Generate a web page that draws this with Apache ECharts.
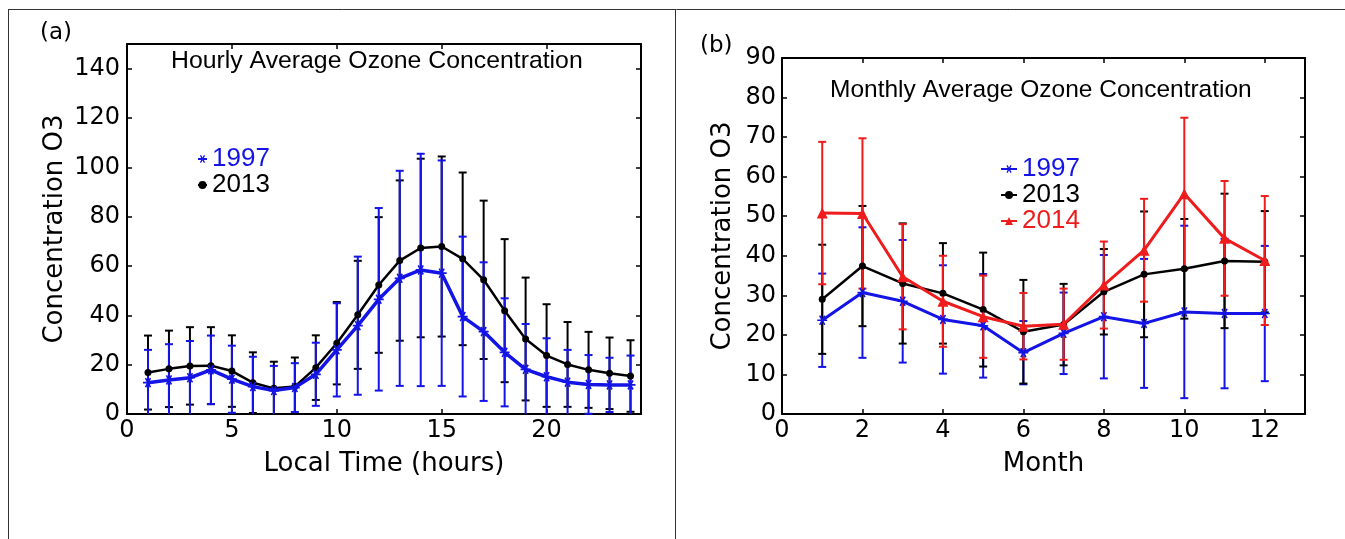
<!DOCTYPE html>
<html><head><meta charset="utf-8">
<script src="https://cdn.jsdelivr.net/npm/echarts@6/dist/echarts.min.js"></script>
<style>html,body{margin:0;padding:0;background:#fff;}#c{width:1345px;height:539px;}</style>
</head><body><div id="c"></div>
<script>
// ---------- data ----------
const hours = [1,2,3,4,5,6,7,8,9,10,11,12,13,14,15,16,17,18,19,20,21,22,23,24];
const hourly1997 = [12.7,13.8,14.7,17.9,14.1,11.1,9.5,10.7,16.1,26.0,35.8,46.5,55.0,58.4,57.1,39.5,33.4,25.0,18.1,15.1,12.9,12.0,11.8,11.8];
const hourly1997Err = [13.3,14.5,14.9,13.9,13.6,12.1,10.0,9.9,12.8,18.9,28.0,37.0,43.6,47.1,45.7,32.4,28.1,21.9,18.4,15.6,13.1,11.9,11.0,11.9];
const hourly2013 = [16.8,18.3,19.5,19.6,17.4,12.7,10.4,11.1,18.8,28.7,40.2,52.3,62.2,67.3,67.9,62.9,54.4,41.9,30.4,23.7,20.1,17.9,16.5,15.4];
const hourly2013Err = [15.0,15.5,15.7,15.6,14.5,12.3,10.8,11.8,13.1,16.7,21.9,27.5,32.5,36.2,36.5,35.0,32.1,29.0,24.9,20.8,17.2,15.4,14.5,14.5];

const months = [1,2,3,4,5,6,7,8,9,10,11,12];
const monthly1997 = [23.7,30.7,28.5,23.9,22.3,15.5,20.4,24.6,22.9,25.8,25.4,25.4];
const monthly1997Err = [11.8,16.5,15.5,13.7,13.1,8.0,10.3,15.6,16.3,21.8,18.9,17.1];
const monthly2013 = [29.0,37.4,33.0,30.5,26.4,20.8,22.6,30.9,35.3,36.7,38.7,38.5];
const monthly2013Err = [13.8,15.2,15.2,12.7,14.4,13.1,10.3,10.8,15.9,12.6,17.0,12.8];
const monthly2014 = [50.8,50.7,34.7,28.5,24.6,22.2,22.7,32.6,41.4,55.7,44.4,38.8];
const monthly2014Err = [18.0,19.0,13.3,11.5,10.4,8.4,9.0,11.0,13.0,19.2,14.5,16.3];

const hourTicksX = [0,5,10,15,20];
const hourTicksY = [0,20,40,60,80,100,120,140];
const monthTicksX = [0,2,4,6,8,10,12];
const monthTicksY = [0,10,20,30,40,50,60,70,80,90];

// ---------- styles ----------
const BLUE = '#1414e6', BLACK = '#000000', RED = '#ee1c1c';
const TICKFONT = 'DejaVu Sans';
const STAR = 'path://M0,4.2L10,4.2L10,5.8L0,5.8Z M3.19,0.27L8.19,8.93L6.81,9.73L1.81,1.07Z M8.19,1.07L3.19,9.73L1.81,8.93L6.81,0.27Z';

const pairs = (xs, ys) => xs.map((x, i) => [x, ys[i]]);

function errSeries(id, xs, means, errs, color, xi, yi, ymax, z) {
  return {
    type: 'custom', id: id, name: id, xAxisIndex: xi, yAxisIndex: yi, z: z,
    silent: true, animation: false,
    data: xs.map((x, i) => [x, means[i] - errs[i], means[i] + errs[i]]),
    renderItem: function (params, api) {
      const x = api.value(0), lo = api.value(1), hi = api.value(2);
      const p1 = api.coord([x, Math.max(lo, 0)]);
      const p2 = api.coord([x, Math.min(hi, ymax)]);
      const st = { stroke: color, lineWidth: 2 };
      const ch = [{ type: 'line', shape: { x1: p1[0], y1: p1[1], x2: p2[0], y2: p2[1] }, style: st }];
      const cw = 4;
      if (lo >= 0) { const q = api.coord([x, lo]); ch.push({ type: 'line', shape: { x1: q[0]-cw, y1: q[1], x2: q[0]+cw, y2: q[1] }, style: st }); }
      if (hi <= ymax) { const q = api.coord([x, hi]); ch.push({ type: 'line', shape: { x1: q[0]-cw, y1: q[1], x2: q[0]+cw, y2: q[1] }, style: st }); }
      return { type: 'group', children: ch };
    }
  };
}

function lineSeries(name, xs, ys, color, width, symbol, size, xi, yi, z) {
  return {
    type: 'line', name: name, xAxisIndex: xi, yAxisIndex: yi, z: z,
    data: pairs(xs, ys), symbol: symbol, symbolSize: size, showSymbol: true,
    lineStyle: { color: color, width: width }, itemStyle: { color: color },
    animation: false, emphasis: { disabled: true }
  };
}

function xAx(gi, pos, max, ticks, show, name, nameGap) {
  return {
    type: 'value', gridIndex: gi, position: pos, min: 0, max: max,
    name: show ? name : '', nameLocation: 'middle', nameGap: nameGap,
    nameTextStyle: { fontFamily: TICKFONT, fontSize: 26, color: '#000' },
    axisLine: { show: true, onZero: false, lineStyle: { color: '#000', width: 2 } },
    axisTick: { show: true, inside: true, length: 5, customValues: ticks, lineStyle: { color: '#000', width: 1.5 } },
    axisLabel: { show: show, customValues: ticks, margin: 5, fontFamily: TICKFONT, fontSize: 24, color: '#000' },
    splitLine: { show: false }
  };
}
function yAx(gi, pos, max, ticks, show, name, nameGap, margin) {
  return {
    type: 'value', gridIndex: gi, position: pos, min: 0, max: max,
    name: show ? name : '', nameLocation: 'middle', nameGap: nameGap,
    nameTextStyle: { fontFamily: TICKFONT, fontSize: 26, color: '#000' },
    axisLine: { show: true, onZero: false, lineStyle: { color: '#000', width: 2 } },
    axisTick: { show: true, inside: true, length: 5, customValues: ticks, lineStyle: { color: '#000', width: 1.5 } },
    axisLabel: { show: show, customValues: ticks, margin: margin, fontFamily: TICKFONT, fontSize: 24, color: '#000' },
    splitLine: { show: false }
  };
}

const chart = echarts.init(document.getElementById('c'));
chart.setOption({
  backgroundColor: '#ffffff',
  animation: false,
  grid: [
    { left: 127, top: 44, width: 514, height: 370, outerBoundsMode: 'none', containLabel: false },
    { left: 782, top: 58, width: 523, height: 356, outerBoundsMode: 'none', containLabel: false }
  ],
  xAxis: [
    xAx(0, 'bottom', 24.5, hourTicksX, true, 'Local Time (hours)', 37),
    xAx(0, 'top', 24.5, hourTicksX, false, '', 0),
    xAx(1, 'bottom', 13, monthTicksX, true, 'Month', 37),
    xAx(1, 'top', 13, monthTicksX, false, '', 0)
  ],
  yAxis: [
    yAx(0, 'left', 150, hourTicksY, true, 'Concentration O3', 59, 7),
    yAx(0, 'right', 150, hourTicksY, false, '', 0, 7),
    yAx(1, 'left', 90, monthTicksY, true, 'Concentration O3', 46, 6),
    yAx(1, 'right', 90, monthTicksY, false, '', 0, 6)
  ],
  legend: [
    {
      orient: 'vertical', left: 197, top: 146, padding: 0, itemWidth: 9, itemHeight: 10, itemGap: 0,
      selectedMode: false,
      textStyle: { fontFamily: 'Liberation Sans', fontSize: 26, lineHeight: 25 },
      data: [
        { name: '1997', textStyle: { color: BLUE } },
        { name: '2013', textStyle: { color: BLACK } }
      ]
    },
    {
      orient: 'vertical', left: 1000, top: 156, padding: 0, itemWidth: 16, itemHeight: 10, itemGap: 0,
      selectedMode: false,
      textStyle: { fontFamily: 'Liberation Sans', fontSize: 26, lineHeight: 24 },
      data: [
        { name: '1997 ', textStyle: { color: BLUE } },
        { name: '2013 ', textStyle: { color: BLACK } },
        { name: '2014', textStyle: { color: RED } }
      ]
    }
  ],
  series: [
    errSeries('e2013h', hours, hourly2013, hourly2013Err, BLACK, 0, 0, 150, 2),
    errSeries('e1997h', hours, hourly1997, hourly1997Err, BLUE, 0, 0, 150, 3),
    lineSeries('2013', hours, hourly2013, BLACK, 2.5, 'circle', 7, 0, 0, 4),
    lineSeries('1997', hours, hourly1997, BLUE, 3.5, STAR, 10, 0, 0, 5),

    errSeries('e1997m', months, monthly1997, monthly1997Err, BLUE, 2, 2, 90, 2),
    errSeries('e2013m', months, monthly2013, monthly2013Err, BLACK, 2, 2, 90, 3),
    errSeries('e2014m', months, monthly2014, monthly2014Err, RED, 2, 2, 90, 4),
    lineSeries('1997 ', months, monthly1997, BLUE, 3, STAR, 10, 2, 2, 5),
    lineSeries('2013 ', months, monthly2013, BLACK, 2.5, 'circle', 7, 2, 2, 6),
    lineSeries('2014', months, monthly2014, RED, 3, 'triangle', 11, 2, 2, 7)
  ],
  graphic: [
    { type: 'line', silent: true, shape: { x1: 8, y1: 9.5, x2: 1345, y2: 9.5 }, style: { stroke: '#333', lineWidth: 1 } },
    { type: 'line', silent: true, shape: { x1: 8.5, y1: 9, x2: 8.5, y2: 539 }, style: { stroke: '#333', lineWidth: 1 } },
    { type: 'line', silent: true, shape: { x1: 675.5, y1: 9, x2: 675.5, y2: 539 }, style: { stroke: '#333', lineWidth: 1 } },
    { type: 'text', silent: true, left: 40, top: 22, style: { text: '(a)', fontFamily: TICKFONT, fontSize: 23, fill: '#000' } },
    { type: 'text', silent: true, left: 700, top: 35, style: { text: '(b)', fontFamily: TICKFONT, fontSize: 23, fill: '#000' } },
    { type: 'text', silent: true, left: 171, top: 49, style: { text: 'Hourly Average Ozone Concentration', fontFamily: 'Liberation Sans', fontSize: 24.8, fill: '#000' } },
    { type: 'text', silent: true, left: 830, top: 78, style: { text: 'Monthly Average Ozone Concentration', fontFamily: 'Liberation Sans', fontSize: 24.5, fill: '#000' } }
  ]
});
</script>
</body></html>
